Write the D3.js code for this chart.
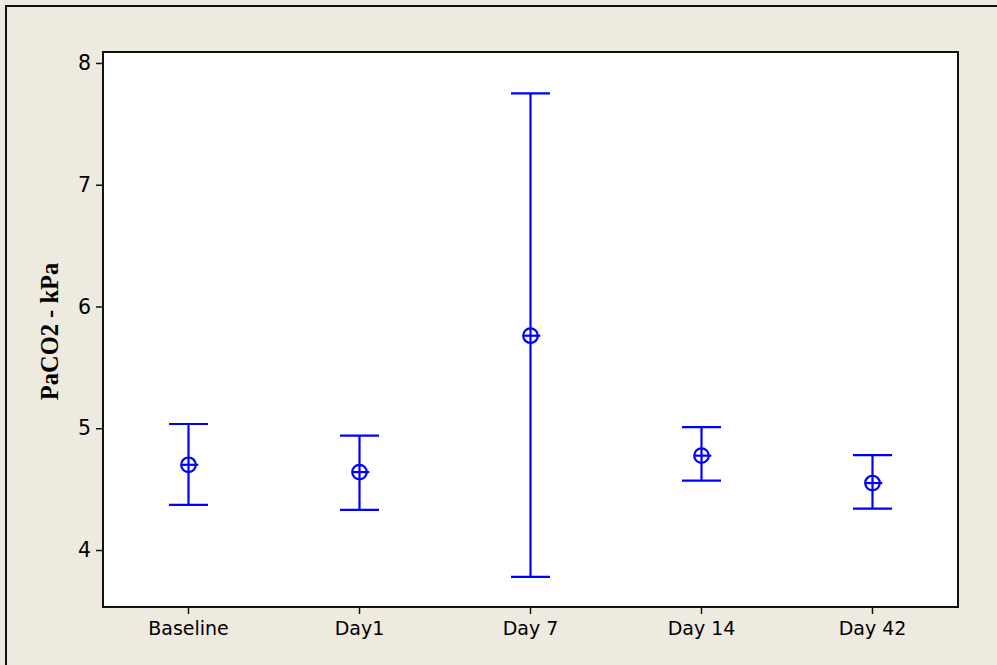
<!DOCTYPE html>
<html>
<head>
<meta charset="utf-8">
<script src="https://cdn.jsdelivr.net/npm/d3@7"></script>
<style>
  html, body { margin: 0; padding: 0; background: #EEEAE0; }
  svg { display: block; }
</style>
</head>
<body>
<svg id="chart" width="997" height="665"></svg>
<script>
// ---- data ----
const categories = ["Baseline", "Day1", "Day 7", "Day 14", "Day 42"];
const means = [4.70, 4.64, 5.76, 4.775, 4.55];
const upper = [5.035, 4.94, 7.75, 5.01, 4.78];
const lower = [4.37, 4.33, 3.78, 4.57, 4.34];
const yTicks = [4, 5, 6, 7, 8];
const yTitle = "PaCO2 - kPa";

const W = 997, H = 665;
const plot = { left: 103, top: 52, right: 958, bottom: 607 };
const blue = "#0000FF";
const font = "Tahoma, 'DejaVu Sans', Verdana, sans-serif";

const svg = d3.select("#chart");

// outer frame
svg.append("rect")
  .attr("x", 6).attr("y", 6)
  .attr("width", W + 20).attr("height", H + 20)
  .attr("fill", "#EEEAE0")
  .attr("stroke", "#111").attr("stroke-width", 2);

const x = d3.scaleBand()
  .domain(categories)
  .range([plot.left, plot.right])
  .paddingInner(0).paddingOuter(0);

const y = d3.scaleLinear()
  .domain([3.532, 8.09])
  .range([plot.bottom, plot.top]);

// plot background
svg.append("rect")
  .attr("x", plot.left).attr("y", plot.top)
  .attr("width", plot.right - plot.left)
  .attr("height", plot.bottom - plot.top)
  .attr("fill", "#ffffff");

// axes
const yAxis = d3.axisLeft(y).tickValues(yTicks).tickSize(7).tickPadding(5).tickFormat(d3.format("d"));
const xAxis = d3.axisBottom(x).tickSize(7).tickPadding(8);

const gy = svg.append("g").attr("transform", `translate(${plot.left},0)`).call(yAxis);
const gx = svg.append("g").attr("transform", `translate(0,${plot.bottom})`).call(xAxis);
[gx, gy].forEach(g => {
  g.select(".domain").remove();
  g.selectAll(".tick line").attr("stroke", "#111").attr("stroke-width", 1.5);
  g.selectAll(".tick text").attr("fill", "#000").style("font-family", font);
});
gy.selectAll(".tick text").style("font-size", "20.5px");
gx.selectAll(".tick text").style("font-size", "19px");

// plot frame
svg.append("rect")
  .attr("x", plot.left).attr("y", plot.top)
  .attr("width", plot.right - plot.left)
  .attr("height", plot.bottom - plot.top)
  .attr("fill", "none")
  .attr("stroke", "#111").attr("stroke-width", 2);

// y title
svg.append("text")
  .attr("transform", `translate(58,${(plot.top + plot.bottom) / 2 + 2}) rotate(-90)`)
  .attr("text-anchor", "middle")
  .style("font-family", "'Liberation Serif', 'Times New Roman', serif")
  .style("font-weight", "bold")
  .style("font-size", "24.5px")
  .attr("fill", "#000")
  .text(yTitle);

// error bars
const data = categories.map((c, i) => ({ c, m: means[i], hi: upper[i], lo: lower[i] }));
const cx = d => x(d.c) + x.bandwidth() / 2;
const capHalf = 19.5, r = 7.3;

const g = svg.append("g").attr("stroke", blue).attr("stroke-width", 2.2).attr("fill", "none");
const items = g.selectAll("g.item").data(data).join("g").attr("class", "item");
items.append("line")
  .attr("x1", cx).attr("x2", cx)
  .attr("y1", d => y(d.hi)).attr("y2", d => y(d.lo));
items.append("line")
  .attr("x1", d => cx(d) - capHalf).attr("x2", d => cx(d) + capHalf)
  .attr("y1", d => y(d.hi)).attr("y2", d => y(d.hi));
items.append("line")
  .attr("x1", d => cx(d) - capHalf).attr("x2", d => cx(d) + capHalf)
  .attr("y1", d => y(d.lo)).attr("y2", d => y(d.lo));
items.append("circle")
  .attr("cx", cx).attr("cy", d => y(d.m)).attr("r", r);
items.append("line")
  .attr("x1", d => cx(d) - r).attr("x2", d => cx(d) + r + 2.5)
  .attr("y1", d => y(d.m)).attr("y2", d => y(d.m));
</script>
</body>
</html>
